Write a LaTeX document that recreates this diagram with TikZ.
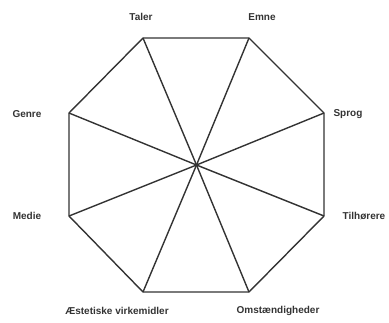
\documentclass[tikz,border=0pt]{standalone}
\usepackage{fontspec}
\setmainfont{Liberation Sans}
\begin{document}
\begin{tikzpicture}[x=1pt,y=-1pt,
  edge/.style={draw=black!80,line width=1.4pt,line join=miter},
  lbl/.style={font=\fontsize{10}{12}\selectfont\bfseries,text=black!80,inner sep=0pt}]
\useasboundingbox (0,0) rectangle (389,322);
\coordinate (c) at (196.5,165);
\coordinate (v1) at (143,38);
\coordinate (v2) at (249,38);
\coordinate (v3) at (324,113);
\coordinate (v4) at (324,216);
\coordinate (v5) at (249,292);
\coordinate (v6) at (143,292);
\coordinate (v7) at (69,216);
\coordinate (v8) at (69,113);
\draw[edge] (v1) -- (v2) -- (v3) -- (v4) -- (v5) -- (v6) -- (v7) -- (v8) -- cycle;
\foreach \i in {1,...,8} \draw[edge] (c) -- (v\i);
\node[lbl] (taler) at (141,17) {Taler};
\node[lbl] (emne) at (262,17) {Emne};
\node[lbl] (sprog) at (348,114) {Sprog};
\node[lbl] (tilh) at (364,216) {Tilhørere};
\node[lbl] (omst) at (278,311) {Omstændigheder};
\node[lbl] (aest) at (117,311) {Æstetiske virkemidler};
\node[lbl] (medie) at (27,216) {Medie};
\node[lbl] (genre) at (27,114) {Genre};
\end{tikzpicture}
\end{document}
